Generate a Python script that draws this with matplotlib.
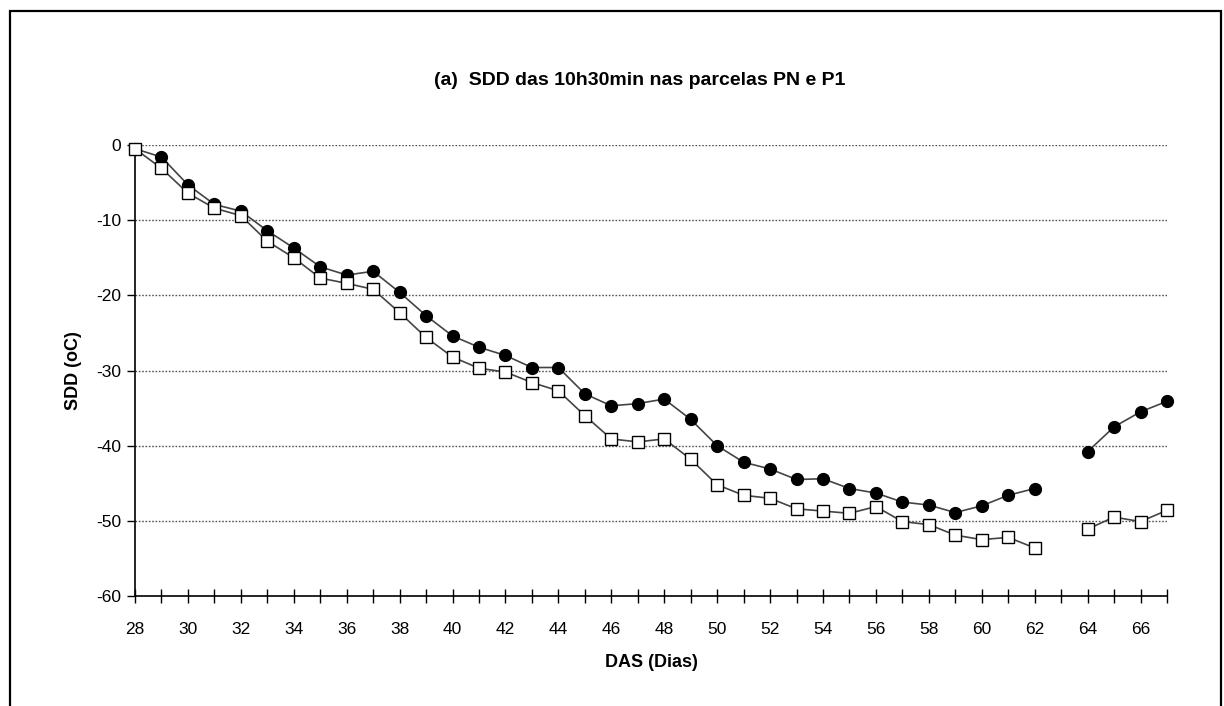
import numpy as np
import matplotlib
matplotlib.use("Agg")
import matplotlib.pyplot as plt
from matplotlib.patches import Rectangle

plt.rcParams['font.family'] = ['Liberation Sans', 'DejaVu Sans']
plt.rcParams['axes.unicode_minus'] = False

# DAS (dias) e SDD (oC) - parcelas PN (circulos) e P1 (quadrados)
das = np.arange(28, 68)
sdd_pn = [-0.5, -1.6, -5.3, -7.9, -8.8, -11.4, -13.7, -16.2, -17.3, -16.8,
          -19.6, -22.7, -25.4, -26.9, -28.0, -29.6, -29.6, -33.1, -34.7, -34.4,
          -33.8, -36.5, -40.0, -42.2, -43.1, -44.5, -44.4, -45.7, -46.3, -47.5,
          -47.9, -48.9, -48.0, -46.6, -45.7, np.nan, -40.8, -37.5, -35.5, -34.1]
sdd_p1 = [-0.5, -3.1, -6.4, -8.4, -9.4, -12.8, -15.0, -17.7, -18.4, -19.2,
          -22.3, -25.6, -28.2, -29.7, -30.2, -31.6, -32.7, -36.0, -39.1, -39.5,
          -39.1, -41.8, -45.2, -46.6, -47.0, -48.4, -48.7, -49.0, -48.1, -50.1,
          -50.5, -51.9, -52.5, -52.2, -53.6, np.nan, -51.1, -49.5, -50.1, -48.6]
yticks = [0, -10, -20, -30, -40, -50, -60]
xticks = np.arange(28, 67, 2)

fig = plt.figure(figsize=(12.24, 7.06), dpi=100)
ax = fig.add_axes([0.1103, 0.1558, 0.8431, 0.6388])

# moldura externa (borda inferior fora da imagem)
fig.patches.append(Rectangle((10/1224, -10/706), 1211/1224, 705/706,
                             transform=fig.transFigure, fill=False,
                             edgecolor='black', linewidth=1.6))

for y in yticks[:-1]:
    ax.axhline(y, color='#555555', linestyle=(0, (1.2, 1.2)), linewidth=1.0, zorder=1)

ax.plot(das, sdd_pn, color='#444444', linewidth=1.2, marker='o', markersize=8.5,
        markerfacecolor='black', markeredgecolor='black', zorder=3, clip_on=False)
ax.plot(das, sdd_p1, color='#444444', linewidth=1.2, marker='s', markersize=8.5,
        markerfacecolor='white', markeredgecolor='black', markeredgewidth=1.0,
        zorder=4, clip_on=False)

ax.set_xlim(28, 67)
ax.set_ylim(-60, 0)
ax.set_xticks(das, minor=True)
ax.set_xticks(xticks)
ax.set_yticks(yticks)
ax.tick_params(axis='x', which='both', direction='inout', length=10, width=1.0,
               labelsize=12.5, pad=14)
ax.tick_params(axis='y', direction='out', length=6, width=1.0, labelsize=12.5, pad=4)

for s in ['top', 'right']:
    ax.spines[s].set_visible(False)
for s in ['left', 'bottom']:
    ax.spines[s].set_linewidth(1.2)

ax.set_xlabel('DAS (Dias)', fontsize=13, fontweight='bold', labelpad=12)
ax.set_ylabel('SDD (oC)', fontsize=13, fontweight='bold', labelpad=10)
fig.text(0.523, 0.886, '(a)  SDD das 10h30min nas parcelas PN e P1',
         ha='center', va='center', fontsize=14, fontweight='bold')

fig.savefig('out.png', dpi=100)
